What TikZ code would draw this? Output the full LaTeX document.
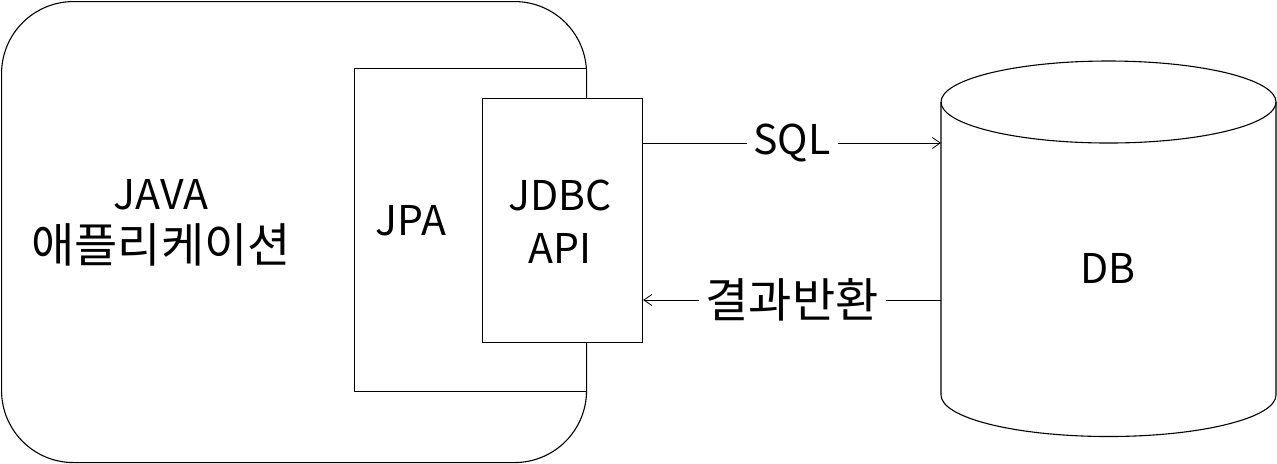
\documentclass[tikz,border=0pt]{standalone}
\usepackage{fontspec}
\setmainfont{Noto Sans CJK KR}
\usetikzlibrary{arrows.meta}
\newcommand\mykor[1]{{\fontsize{23.5pt}{26.5pt}\selectfont #1}}
\begin{document}
\begin{tikzpicture}[x=0.5pt,y=-0.5pt,line width=0.55pt,
  box/.style={draw,fill=white,inner sep=0pt,anchor=north west},
  lbl/.style={font=\fontsize{20.5pt}{26.5pt}\selectfont,align=center,inner sep=0pt},
  conn/.style={draw,line width=0.4pt,-{Straight Barb[length=4pt,width=5.5pt]}},
  clbl/.style={lbl,fill=white,inner xsep=3.5pt,inner ysep=2pt}]
\useasboundingbox (0,0) rectangle (1277,463);
% application box
\node[box,rounded corners=36pt,minimum width=292.5pt,minimum height=230.5pt] (app) at (1,1) {};
\node[box,minimum width=116pt,minimum height=161.5pt] (jpa) at (354,68) {};
\node[box,minimum width=80pt,minimum height=122pt] (jdbc) at (482,98) {};
\node[lbl] (apptxt) at (161,223) {JAVA\\\mykor{애플리케이션}};
\node[lbl] (jpatxt) at (411,221) {JPA};
\node[lbl] (jdbctxt) at (560,222) {JDBC\\API};
% database cylinder
\draw (941,102) -- (941,395) arc[start angle=180,end angle=360,x radius=83.75pt,y radius=20.75pt] -- (1276,102);
\draw (1108.5,102) ellipse[x radius=83.75pt,y radius=20.5pt];
\node[lbl] (db) at (1108,268) {DB};
\coordinate (dbin) at (941,143);
\coordinate (dbout) at (941,300);
% connectors
\path[conn] (jdbc.east |- dbin) -- node[clbl] (sql) {SQL} (dbin);
\path[conn] (dbout) -- node[clbl] (ret) {\mykor{결과반환}} (jdbc.east |- dbout);
\end{tikzpicture}
\end{document}
